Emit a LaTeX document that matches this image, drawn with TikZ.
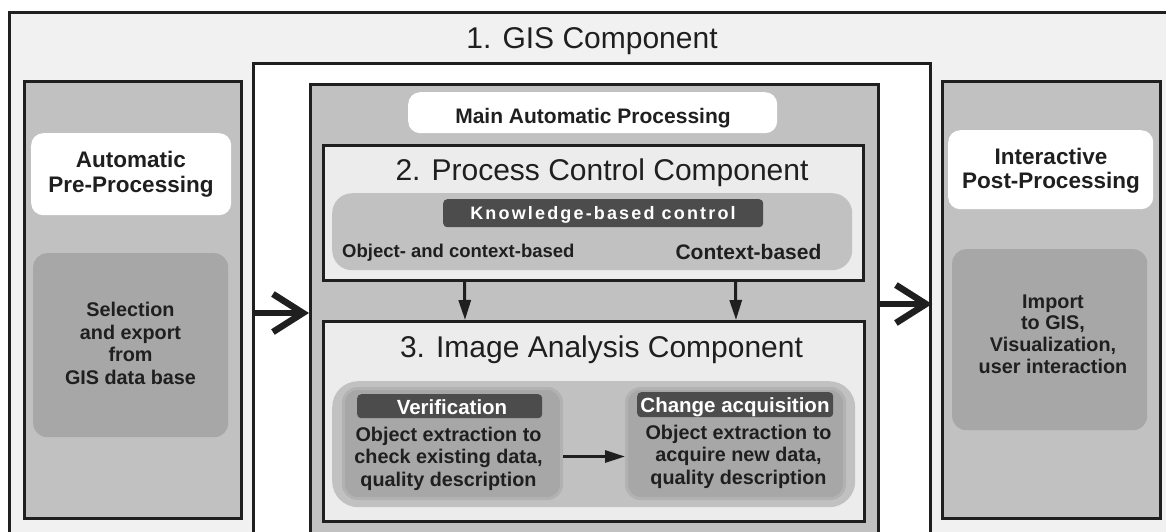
\documentclass[tikz,border=0pt]{standalone}
\usepackage{fontspec}
\setmainfont{Liberation Sans}
\usetikzlibrary{arrows.meta}

\definecolor{framebg}{gray}{0.945}
\definecolor{colfill}{gray}{0.755}
\definecolor{boxfill}{gray}{0.655}
\definecolor{rimfill}{gray}{0.70}
\definecolor{panelfill}{gray}{0.925}
\definecolor{tabfill}{gray}{0.30}
\definecolor{ink}{gray}{0.12}

\tikzset{
  area/.style={anchor=north west, inner sep=0pt, draw=ink, line width=3pt},
  whitebox/.style={anchor=north west, inner sep=0pt, fill=white, rounded corners=12pt},
  softbox/.style={anchor=north west, inner sep=0pt, fill=boxfill, rounded corners=14pt},
  band/.style={anchor=north west, inner sep=0pt, fill=colfill, rounded corners=20pt},
  tab/.style={anchor=north west, inner sep=0pt, fill=tabfill, rounded corners=4pt},
  title/.style={anchor=base, inner sep=0pt, text=ink, font=\fontsize{30}{34}\selectfont},
  label/.style={anchor=base, inner sep=0pt, text=ink, font=\bfseries\fontsize{20}{24}\selectfont},
  heading/.style={anchor=base, inner sep=0pt, text=ink, align=center, font=\bfseries\fontsize{22.5}{25}\selectfont},
  body/.style={anchor=base, inner sep=0pt, text=ink, align=center, font=\bfseries\fontsize{19.8}{22.5}\selectfont},
  tabtext/.style={anchor=base, inner sep=0pt, text=white, font=\bfseries\fontsize{20.5}{24}\selectfont},
  flow/.style={draw=ink, line width=3pt, -{Triangle[length=20pt,width=12pt]}},
  bigarrow/.style={draw=ink, line width=6.5pt, -{Straight Barb[length=30pt,width=38pt]}}
}

\begin{document}
\begin{tikzpicture}[x=1pt,y=-1pt]
  \useasboundingbox (0,0) rectangle (1166,531);
  \fill[white] (0,0) rectangle (1166,531);

  % GIS component frame
  \node[area, fill=framebg, minimum width=1175pt, minimum height=535pt] (gis) at (8,11) {};
  \node[title] (gistitle) at (592,48) {1. GIS Component};
  \node[area, fill=white, minimum width=677pt, minimum height=485pt] (inner) at (252,62) {};

  % pre-processing
  \node[area, fill=colfill, minimum width=217pt, minimum height=437pt] (pre) at (23,80) {};
  \node[whitebox, minimum width=200pt, minimum height=82pt] (prehead) at (31,133) {};
  \node[heading] (pretitle) at (131,192) {Automatic\\Pre-Processing};
  \node[softbox, minimum width=195pt, minimum height=184pt] (presel) at (33,253) {};
  \node[body] (pretext) at (130.5,384) {Selection\\and export\\from\\GIS data base};

  % post-processing
  \node[area, fill=colfill, minimum width=218pt, minimum height=437pt] (post) at (941,80) {};
  \node[whitebox, minimum width=205pt, minimum height=79pt] (posthead) at (948,130) {};
  \node[heading, font=\bfseries\fontsize{22.5}{24}\selectfont] (posttitle) at (1051,188) {Interactive\\Post-Processing};
  \node[softbox, minimum width=195pt, minimum height=181pt] (postimp) at (952,249) {};
  \node[body, font=\bfseries\fontsize{19.8}{21.6}\selectfont] (posttext) at (1053,373) {Import\\to GIS,\\Visualization,\\user interaction};

  % main automatic processing
  \node[area, fill=colfill, minimum width=568pt, minimum height=470pt] (main) at (309,83) {};
  \node[whitebox, minimum width=369pt, minimum height=41pt] (mainhead) at (408,92) {};
  \node[label, font=\bfseries\fontsize{21}{24}\selectfont] (maintitle) at (593,123) {Main Automatic Processing};

  % process control
  \node[area, fill=panelfill, minimum width=540pt, minimum height=135pt] (pc) at (322,144) {};
  \node[title] (pctitle) at (602,180) {2. Process Control Component};
  \node[band, minimum width=520pt, minimum height=77pt] (pcband) at (332,193) {};
  \node[tab, minimum width=320pt, minimum height=28pt] (kbc) at (443,199) {};
  \node[tabtext, font=\bfseries\fontsize{18}{20}\selectfont\addfontfeature{LetterSpace=12}] (kbctext) at (603,219) {Knowledge-based control};
  \node[label, anchor=base west, font=\bfseries\fontsize{18.5}{22}\selectfont] (objctx) at (342,257) {Object- and context-based};
  \node[label, font=\bfseries\fontsize{21}{24}\selectfont] (ctx) at (748.5,259) {Context-based};

  % image analysis
  \node[area, fill=panelfill, minimum width=541pt, minimum height=200pt] (ia) at (322,320) {};
  \node[title] (iatitle) at (601.5,357) {3. Image Analysis Component};
  \node[band, rounded corners=26pt, minimum width=523pt, minimum height=126pt] (iaband) at (332,381) {};
  \node[softbox, draw=rimfill, line width=3pt, minimum width=218pt, minimum height=110pt] (verbox) at (342,387) {};
  \node[tab, minimum width=185pt, minimum height=24pt] (vertab) at (357,394) {};
  \node[tabtext] (vertitle) at (452,414) {Verification};
  \node[body] (vertext) at (448.5,486) {Object extraction to\\check existing data,\\quality description};
  \node[softbox, draw=rimfill, line width=3pt, minimum width=218pt, minimum height=110pt] (chgbox) at (625,387) {};
  \node[tab, minimum width=196pt, minimum height=25pt] (chgtab) at (637,392) {};
  \node[tabtext] (chgtitle) at (735,412) {Change acquisition};
  \node[body] (chgtext) at (738.5,484) {Object extraction to\\acquire new data,\\quality description};

  % connectors
  \draw[flow] ([xshift=-129pt]pc.south) -- ([xshift=-129pt]ia.north);
  \draw[flow] ([xshift=142pt]pc.south) -- ([xshift=142pt]ia.north);
  \draw[flow] ([yshift=-13pt]verbox.east) -- ([yshift=-13pt]chgbox.west);
  \coordinate (larr) at (252,313);
  \coordinate (rarr) at (877,304);
  \draw[bigarrow] (larr) -- (larr -| main.west);
  \draw[bigarrow] (rarr) -- (rarr -| inner.east);
\end{tikzpicture}
\end{document}
